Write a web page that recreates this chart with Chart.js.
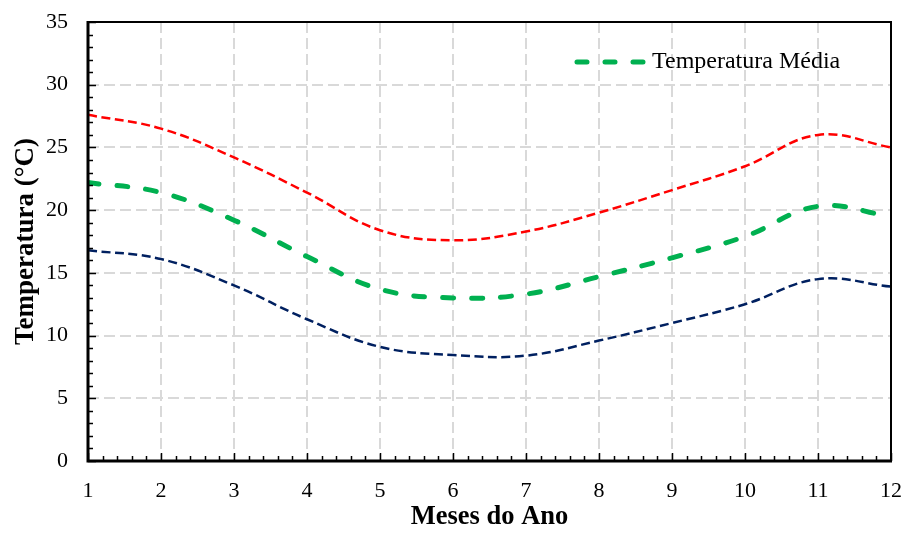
<!DOCTYPE html>
<html><head><meta charset="utf-8">
<script src="https://cdn.jsdelivr.net/npm/chart.js@4"></script>
<style>html,body{margin:0;padding:0;background:#fff;overflow:hidden}</style>
</head><body>
<canvas id="c" width="905" height="538" style="width:905px;height:538px;display:block"></canvas>
<script>
const months   = [1, 2, 3, 4, 5, 6, 7, 8, 9, 10, 11, 12];
const tempMax  = [27.6, 26.5, 24.2, 21.4, 18.4, 17.6, 18.3, 19.8, 21.6, 23.5, 26.0, 25.0];
const tempMean = [22.2, 21.4, 19.2, 16.3, 13.7, 13.0, 13.3, 14.7, 16.2, 17.9, 20.3, 19.5];
const tempMin  = [16.8, 16.1, 14.0, 11.3, 9.1, 8.45, 8.4, 9.6, 11.0, 12.5, 14.5, 13.9];
const legendLabel = 'Temperatura Média';
const xTitle = 'Meses do Ano';
const yTitle = 'Temperatura (°C)';

const FONT = "'Liberation Serif', 'Times New Roman', serif";
const pts = arr => months.map((m, i) => ({x: m, y: arr[i]}));

const framePlugin = {
  id: 'frame',
  afterDatasetsDraw(chart) {
    const {ctx, chartArea: a, scales: {x, y}} = chart;
    ctx.save();
    ctx.strokeStyle = '#000';
    // box
    ctx.lineWidth = 2;
    ctx.strokeRect(a.left, a.top, a.right - a.left, a.bottom - a.top);
    ctx.lineWidth = 3;
    ctx.beginPath();
    ctx.moveTo(a.left, a.top - 1); ctx.lineTo(a.left, a.bottom + 1.5);
    ctx.moveTo(a.left - 1.5, a.bottom); ctx.lineTo(a.right + 1, a.bottom);
    ctx.stroke();
    // inward ticks (major + minor)
    ctx.lineWidth = 1.5;
    ctx.beginPath();
    for (let v = 0; v <= 35; v += 1) {
      const py = Math.round(y.getPixelForValue(v)) + 0.5;
      const len = v % 5 === 0 ? 8 : 5;
      ctx.moveTo(a.left, py); ctx.lineTo(a.left + len, py);
    }
    for (let k = 0; k <= 55; k++) {
      const v = 1 + k * 0.2;
      const px = Math.round(x.getPixelForValue(v)) + 0.5;
      const len = k % 5 === 0 ? 8 : 5;
      ctx.moveTo(px, a.bottom); ctx.lineTo(px, a.bottom - len);
    }
    ctx.stroke();
    // legend (inside plot, top-right)
    ctx.strokeStyle = '#00B050';
    ctx.lineWidth = 5;
    ctx.lineCap = 'round';
    ctx.setLineDash([10, 18]);
    ctx.beginPath();
    ctx.moveTo(577, 62); ctx.lineTo(646, 62);
    ctx.stroke();
    ctx.setLineDash([]);
    ctx.fillStyle = '#000';
    ctx.font = "24px " + FONT;
    ctx.textBaseline = 'middle';
    ctx.textAlign = 'left';
    ctx.fillText(legendLabel, 652, 62);
    ctx.restore();
  }
};

new Chart(document.getElementById('c'), {
  type: 'line',
  data: {
    datasets: [
      {label: 'Temperatura Máxima', data: pts(tempMax), borderColor: '#FF0000', borderWidth: 2.5, borderDash: [9, 4.5], pointRadius: 0, tension: 0.4, fill: false},
      {label: legendLabel, data: pts(tempMean), borderColor: '#00B050', borderWidth: 5, borderDash: [11, 18], borderCapStyle: 'round', pointRadius: 0, tension: 0.4, fill: false},
      {label: 'Temperatura Mínima', data: pts(tempMin), borderColor: '#002060', borderWidth: 2.5, borderDash: [9, 4.5], pointRadius: 0, tension: 0.4, fill: false}
    ]
  },
  options: {
    responsive: false,
    animation: false,
    devicePixelRatio: 1,
    layout: {padding: {top: 22, right: 14, left: 0, bottom: 0}},
    plugins: {legend: {display: false}, tooltip: {enabled: false}},
    scales: {
      x: {
        type: 'linear', min: 1, max: 12,
        ticks: {stepSize: 1, color: '#000', font: {family: FONT, size: 22}, padding: 0, maxRotation: 0},
        grid: {color: '#d9d9d9', lineWidth: 2, drawTicks: true, tickLength: 17, tickColor: 'rgba(0,0,0,0)'},
        border: {display: false, dash: [11, 5]},
        title: {display: true, text: xTitle, color: '#000', font: {family: FONT, size: 26.5, weight: 'bold'}, padding: {top: 0, bottom: 5}},
        afterFit: s => { s.height = 77; }
      },
      y: {
        min: 0, max: 35,
        ticks: {stepSize: 5, color: '#000', font: {family: FONT, size: 22}, padding: 0},
        grid: {color: '#d9d9d9', lineWidth: 2, drawTicks: true, tickLength: 20, tickColor: 'rgba(0,0,0,0)'},
        border: {display: false, dash: [11, 5]},
        title: {display: true, text: yTitle, color: '#000', font: {family: FONT, size: 27, weight: 'bold'}, padding: {top: 10, bottom: 0}},
        afterFit: s => { s.width = 88; }
      }
    }
  },
  plugins: [framePlugin]
});
</script>
</body></html>
